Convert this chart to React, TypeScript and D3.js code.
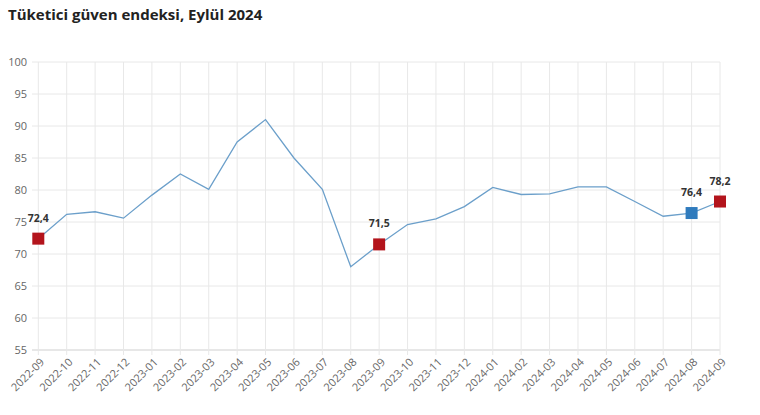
import React from "react";
import * as d3 from "d3";

const months = [
  "2022-09", "2022-10", "2022-11", "2022-12",
  "2023-01", "2023-02", "2023-03", "2023-04", "2023-05", "2023-06",
  "2023-07", "2023-08", "2023-09", "2023-10", "2023-11", "2023-12",
  "2024-01", "2024-02", "2024-03", "2024-04", "2024-05", "2024-06",
  "2024-07", "2024-08", "2024-09",
];
const values = [
  72.4, 76.2, 76.6, 75.6,
  79.2, 82.5, 80.1, 87.5, 91.0, 85.0,
  80.1, 68.0, 71.5, 74.6, 75.5, 77.4,
  80.4, 79.3, 79.4, 80.5, 80.5, 78.2,
  75.9, 76.4, 78.2,
];
const yTicks = [55, 60, 65, 70, 75, 80, 85, 90, 95, 100];
const highlighted = [
  { month: "2022-09", kind: "red" },
  { month: "2023-09", kind: "red" },
  { month: "2024-08", kind: "blue" },
  { month: "2024-09", kind: "red" },
];
const title = "Tüketici güven endeksi, Eylül 2024";

const W = 760;
const H = 415;
const left = 38.3;
const right = 720;
const top = 62;
const bottom = 350;
const font = "'Open Sans', 'Noto Sans', sans-serif";

export default function App() {
  const x = d3.scalePoint<string>().domain(months).range([left, right]);
  const y = d3.scaleLinear().domain([55, 100]).range([bottom, top]);
  const line = d3
    .line<number>()
    .x((_, i) => x(months[i]) as number)
    .y((d) => y(d));
  const colors: Record<string, string> = { red: "#b3141c", blue: "#2f7bbd" };
  const fmt = (v: number) => v.toFixed(1).replace(".", ",");

  return (
    <svg
      width={W}
      height={H}
      style={{ position: "absolute", left: 0, top: 0, background: "#fff" }}
    >
      <text x={8} y={20} fontFamily={font} fontWeight={700} fontSize={15} fill="#222">
        {title}
      </text>
      {yTicks.map((t) => (
        <g key={t}>
          <line
            x1={32}
            x2={right}
            y1={y(t)}
            y2={y(t)}
            stroke={t === 55 ? "#cfcfcf" : "#e8e8e8"}
            strokeWidth={1}
          />
          <text
            x={27}
            y={y(t)}
            dy="0.35em"
            textAnchor="end"
            fontFamily={font}
            fontSize={11}
            fill="#666"
          >
            {t}
          </text>
        </g>
      ))}
      {months.map((m) => (
        <g key={m}>
          <line
            x1={x(m)}
            x2={x(m)}
            y1={top}
            y2={bottom + 5}
            stroke="#e8e8e8"
            strokeWidth={1}
          />
          <text
            transform={`translate(${(x(m) as number) + 4},${bottom + 10}) rotate(-45)`}
            textAnchor="end"
            dy="0.35em"
            fontFamily={font}
            fontSize={11}
            fill="#666"
          >
            {m}
          </text>
        </g>
      ))}
      <path d={line(values) || ""} fill="none" stroke="#6b9fca" strokeWidth={1.3} />
      {highlighted.map((h) => {
        const i = months.indexOf(h.month);
        const cx = x(h.month) as number;
        const cy = y(values[i]);
        return (
          <g key={h.month}>
            <rect x={cx - 6} y={cy - 6} width={12} height={12} fill={colors[h.kind]} />
            <text
              x={cx}
              y={cy - 17}
              textAnchor="middle"
              fontFamily={font}
              fontWeight={700}
              fontSize={10.5}
              fill="#333"
            >
              {fmt(values[i])}
            </text>
          </g>
        );
      })}
    </svg>
  );
}
